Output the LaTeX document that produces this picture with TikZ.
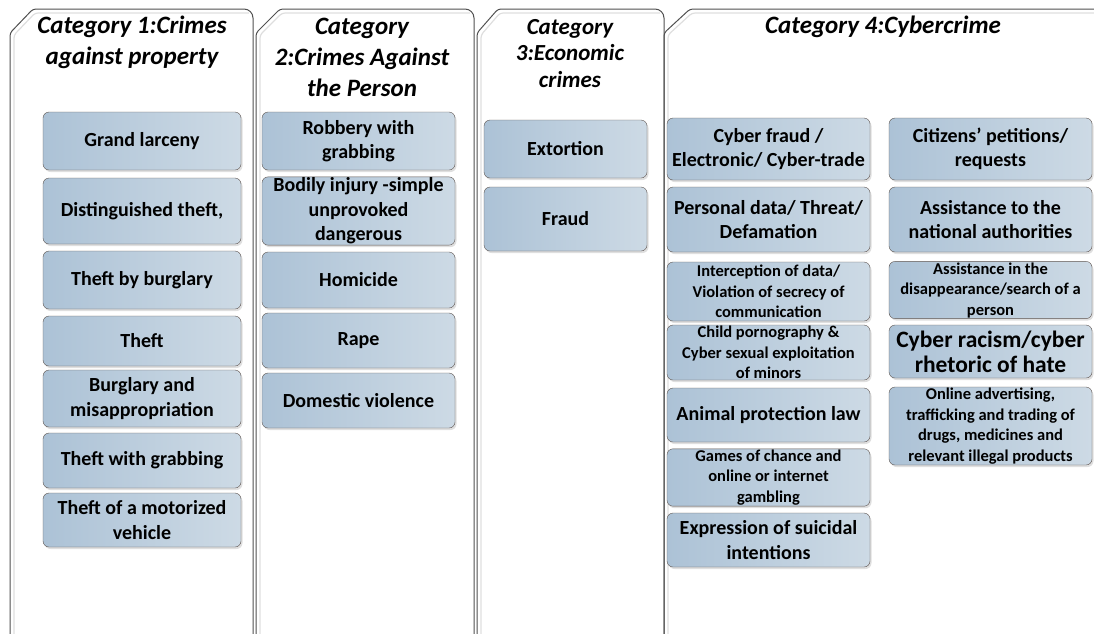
\documentclass[tikz,border=0pt]{standalone}
\usepackage{fontspec}
\setmainfont{Carlito}
\usetikzlibrary{shadows,positioning}
\definecolor{boxleft}{RGB}{172,194,214}
\definecolor{boxright}{RGB}{205,218,229}
\definecolor{boxline}{RGB}{95,85,80}
\definecolor{panelline}{RGB}{80,80,80}
\definecolor{panelglow}{RGB}{222,222,222}
\tikzstyle{crime}=[rectangle,draw=boxline,rounded corners=6pt,left color=boxleft,right color=boxright,align=center,inner sep=1pt,font=\fontsize{20}{24.4}\selectfont\bfseries,drop shadow={opacity=0.25,shadow xshift=1.5pt,shadow yshift=-2pt}]
\tikzstyle{smalltext}=[font=\fontsize{16.5}{20.5}\selectfont\bfseries]
\tikzstyle{bigtext}=[font=\fontsize{23.5}{25}\selectfont\bfseries]
\tikzstyle{propbox}=[crime,minimum width=198pt]
\tikzstyle{personbox}=[crime,minimum width=193pt]
\tikzstyle{econbox}=[crime,minimum width=163pt]
\tikzstyle{cyberbox}=[crime,minimum width=203pt]
\tikzstyle{head}=[align=center,font=\fontsize{25}{31}\selectfont\bfseries\itshape]
\tikzstyle{panel}=[draw=panelline,line width=1pt]
\tikzstyle{glow}=[draw=panelglow,line width=1.2pt]

\begin{document}
\begin{tikzpicture}[x=1pt,y=-1pt]
\useasboundingbox (0,0) rectangle (1094,633);
\clip (0,0) rectangle (1094,633);
% panels
\draw[glow] (14,640) [rounded corners=3pt] -- (14,35) -- (35,13) -- (249,13);
\draw[glow] (260,640) [rounded corners=3pt] -- (260,35) -- (282,13) -- (470,13);
\draw[glow] (481,640) [rounded corners=3pt] -- (481,35) -- (500,13) -- (660,13);
\draw[glow] (668,640) [rounded corners=3pt] -- (668,35) -- (692,13) -- (1100,13);
\draw[panel] (10,640) [rounded corners=3pt] -- (10,33) -- (33,9) [rounded corners=9pt] -- (253,9) -- (253,640);
\draw[panel] (256,640) [rounded corners=3pt] -- (256,33) -- (280,9) [rounded corners=9pt] -- (474,9) -- (474,640);
\draw[panel] (477,640) [rounded corners=3pt] -- (477,33) -- (498,9) [rounded corners=9pt] -- (664,9) -- (664,640);
\draw[panel] (664,640) [rounded corners=3pt] -- (664,33) -- (690,9) -- (1100,9);

% headers
\node[head] (cat1) at (132,42.5) {Category 1:Crimes\\against property};
\node[head] (cat2) at (362,57.5) {Category\\2:Crimes Against\\the Person};
\node[head,font=\fontsize{23}{26.5}\selectfont\bfseries\itshape] (cat3) at (570,53.5) {Category\\3:Economic\\crimes};
\node[head] (cat4) at (883,27) {Category 4:Cybercrime};

% category 1
\node[propbox,minimum height=58pt] (larceny) at (142,141) {Grand larceny};
\node[propbox,minimum height=66pt] (distinguished) at (142,211) {Distinguished theft,};
\node[propbox,minimum height=58pt] (burglarytheft) at (142,280) {Theft by burglary};
\node[propbox,minimum height=50pt] (theft) at (142,341) {Theft};
\node[propbox,minimum height=57pt] (misappropriation) at (142,398.5) {Burglary and\\misappropriation};
\node[propbox,minimum height=55pt] (grabtheft) at (142,460.5) {Theft with grabbing};
\node[propbox,minimum height=54pt] (vehicle) at (142,520) {Theft of a motorized\\vehicle};

% category 2
\node[personbox,minimum height=58pt] (robbery) at (358.5,141) {Robbery with\\grabbing};
\node[personbox,minimum height=66pt] (injury) at (358.5,211) {Bodily injury -simple\\unprovoked\\dangerous};
\node[personbox,minimum height=56pt] (homicide) at (358.5,280) {Homicide};
\node[personbox,minimum height=55pt] (rape) at (358.5,340.5) {Rape};
\node[personbox,minimum height=55pt] (domestic) at (358.5,400.5) {Domestic violence};

% category 3
\node[econbox,minimum height=58pt] (extortion) at (565.5,149) {Extortion};
\node[econbox,minimum height=64pt] (fraud) at (565.5,219) {Fraud};

% category 4
\node[cyberbox,minimum height=62pt] (cyberfraud) at (768.5,149) {Cyber fraud /\\Electronic/ Cyber-trade};
\node[cyberbox,minimum height=65pt] (personal) at (768.5,219.5) {Personal data/ Threat/\\Defamation};
\node[cyberbox,smalltext,minimum height=59pt] (interception) at (768.5,291.5) {Interception of data/\\Violation of secrecy of\\communication};
\node[cyberbox,smalltext,minimum height=55pt] (childporn) at (768.5,352.5) {Child pornography \&\\Cyber sexual exploitation\\of minors};
\node[cyberbox,minimum height=54pt] (animal) at (768.5,415) {Animal protection law};
\node[cyberbox,smalltext,minimum height=55pt] (gambling) at (768.5,477.5) {Games of chance and\\online or internet\\gambling};
\node[cyberbox,minimum height=54pt] (suicidal) at (768.5,540) {Expression of suicidal\\intentions};

\node[cyberbox,minimum height=62pt] (petitions) at (990.5,149) {Citizens’ petitions/\\requests};
\node[cyberbox,minimum height=65pt] (authorities) at (990.5,219.5) {Assistance to the\\national authorities};
\node[cyberbox,smalltext,minimum height=56pt] (disappearance) at (990.5,290) {Assistance in the\\disappearance/search of a\\person};
\node[cyberbox,bigtext,minimum height=53pt] (racism) at (990.5,351.5) {Cyber racism/cyber\\rhetoric of hate};
\node[cyberbox,smalltext,minimum height=78pt] (advertising) at (990.5,426) {Online advertising,\\trafficking and trading of\\drugs, medicines and\\relevant illegal products};
\end{tikzpicture}
\end{document}
